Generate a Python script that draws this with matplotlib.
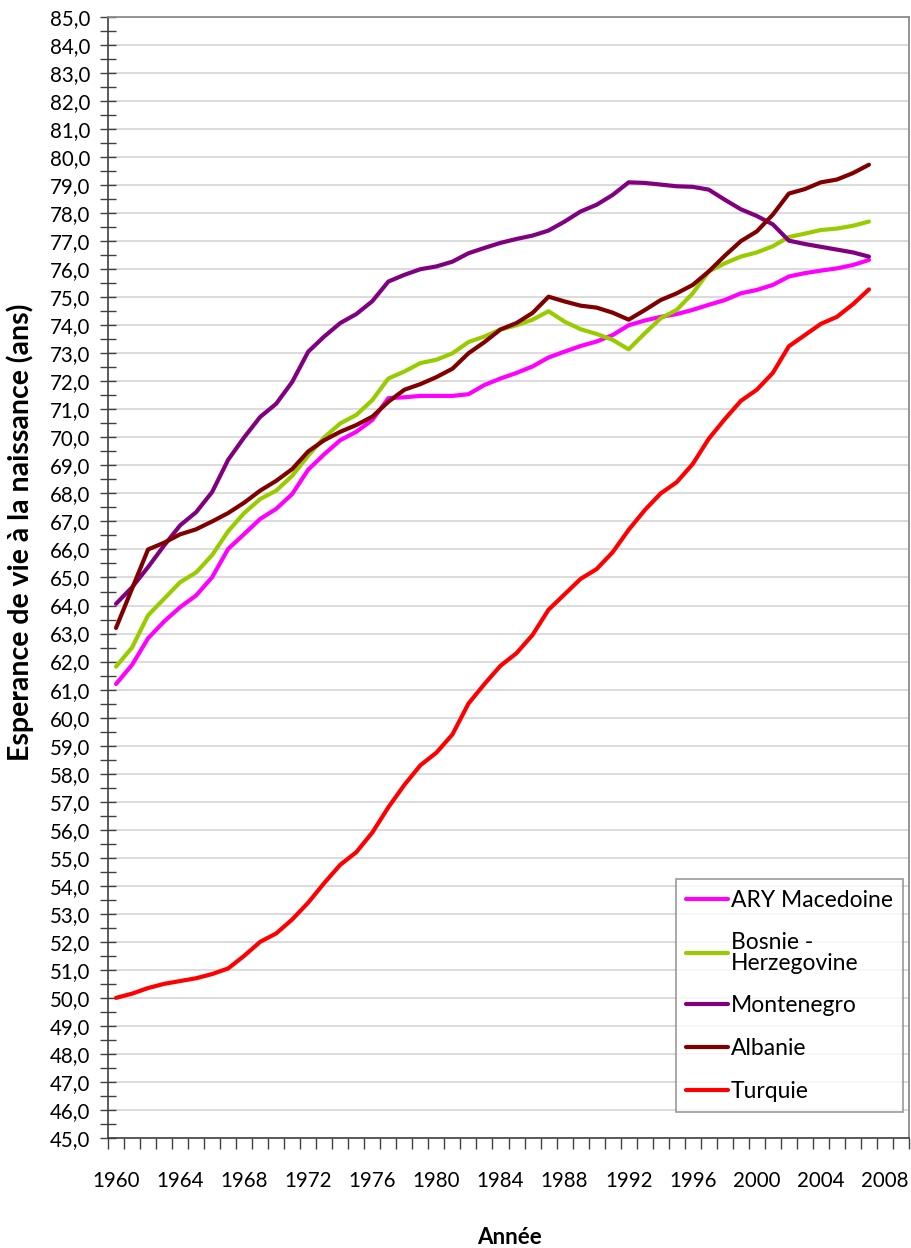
import matplotlib
matplotlib.use("Agg")
import matplotlib.pyplot as plt
import numpy as np

plt.rcParams['font.family'] = ['Lato', 'DejaVu Sans']

years = list(range(1960, 2008))

macedoine = [61.2, 61.88, 62.83, 63.43, 63.94, 64.36, 65.01, 66.02, 66.55, 67.09,
             67.45, 67.98, 68.85, 69.4, 69.9, 70.2, 70.62, 71.4, 71.43, 71.48,
             71.48, 71.48, 71.54, 71.87, 72.1, 72.3, 72.53, 72.85, 73.06, 73.26,
             73.42, 73.65, 74.0, 74.17, 74.3, 74.4, 74.55, 74.73, 74.9, 75.14,
             75.26, 75.44, 75.74, 75.86, 75.95, 76.03, 76.15, 76.33]

bosnie = [61.82, 62.5, 63.65, 64.24, 64.83, 65.18, 65.8, 66.65, 67.3, 67.8,
          68.1, 68.63, 69.35, 70.0, 70.5, 70.8, 71.33, 72.1, 72.35, 72.65,
          72.77, 73.0, 73.4, 73.6, 73.85, 74.0, 74.2, 74.5, 74.13, 73.86,
          73.69, 73.48, 73.14, 73.71, 74.25, 74.55, 75.14, 75.92, 76.21, 76.45,
          76.6, 76.82, 77.15, 77.27, 77.4, 77.45, 77.55, 77.7]

montenegro = [64.06, 64.65, 65.37, 66.14, 66.86, 67.33, 68.05, 69.2, 70.0, 70.73,
              71.2, 71.98, 73.06, 73.6, 74.08, 74.4, 74.86, 75.56, 75.8, 76.0,
              76.1, 76.27, 76.57, 76.76, 76.94, 77.08, 77.2, 77.38, 77.7, 78.06,
              78.3, 78.65, 79.1, 79.08, 79.02, 78.96, 78.94, 78.84, 78.48, 78.14,
              77.9, 77.6, 77.02, 76.9, 76.8, 76.7, 76.6, 76.45]

albanie = [63.2, 64.6, 66.0, 66.24, 66.54, 66.72, 67.0, 67.3, 67.67, 68.1,
           68.45, 68.87, 69.5, 69.9, 70.2, 70.44, 70.74, 71.27, 71.7, 71.9,
           72.15, 72.45, 73.0, 73.4, 73.85, 74.08, 74.44, 75.02, 74.85, 74.7,
           74.63, 74.45, 74.2, 74.54, 74.9, 75.14, 75.44, 75.92, 76.48, 77.0,
           77.35, 77.95, 78.7, 78.86, 79.1, 79.2, 79.43, 79.73]

turquie = [50.0, 50.15, 50.35, 50.5, 50.6, 50.7, 50.85, 51.05, 51.5, 52.0,
           52.3, 52.8, 53.4, 54.1, 54.75, 55.2, 55.9, 56.8, 57.6, 58.3,
           58.75, 59.4, 60.5, 61.2, 61.85, 62.3, 62.95, 63.85, 64.4, 64.95,
           65.3, 65.9, 66.7, 67.4, 68.0, 68.4, 69.05, 69.95, 70.65, 71.3,
           71.7, 72.3, 73.25, 73.65, 74.05, 74.3, 74.75, 75.28]

series = [
    ("ARY Macedoine", macedoine, "#FF00FF"),
    ("Bosnie -\nHerzegovine", bosnie, "#99CC00"),
    ("Montenegro", montenegro, "#800080"),
    ("Albanie", albanie, "#800000"),
    ("Turquie", turquie, "#FF0000"),
]

fig = plt.figure(figsize=(9.12, 12.48), dpi=100)
ax = fig.add_axes([108/912, 1-1138/1248, 801/912, 1121/1248])

for name, vals, col in series:
    ax.plot(years, vals, color=col, lw=3, label=name, solid_capstyle='round')

ax.set_xlim(1959.5, 2009.5)
ax.set_ylim(45, 85)

ax.set_yticks(np.arange(45, 85.5, 1))
ax.set_yticks(np.arange(45.5, 85, 1), minor=True)
ax.set_yticklabels([("%.1f" % v).replace('.', ',') for v in np.arange(45, 85.5, 1)])
ax.tick_params(axis='y', which='both', direction='inout', length=12, width=1,
               color='#404040', labelsize=14.8, pad=7)

ax.set_xticks(range(1960, 2009, 4))
ax.set_xticks(np.arange(1959.5, 2010, 1), minor=True)
ax.tick_params(axis='x', which='major', length=0, labelsize=14.8, pad=24)
ax.tick_params(axis='x', which='minor', direction='out', length=8, width=1, color='#404040')

ax.yaxis.grid(True, which='major', color='#d9d9d9', lw=1.3)
ax.set_axisbelow(True)

for s in ['top', 'right']:
    ax.spines[s].set_color('#8c8c8c')
    ax.spines[s].set_linewidth(1.3)
for s in ['left', 'bottom']:
    ax.spines[s].set_color('#404040')
    ax.spines[s].set_linewidth(1.2)

leg = ax.legend(loc='lower right', bbox_to_anchor=(0.993, 0.023), fontsize=16.5,
                frameon=True, fancybox=False, edgecolor='#808080',
                handlelength=1.8, handletextpad=0.15, labelspacing=0.95,
                borderpad=0.45, borderaxespad=0)
leg.get_frame().set_linewidth(1.2)
leg.get_texts()[1].set_linespacing(0.95)

fig.text(20/912, 1-532/1248, "Esperance de vie à la naissance (ans)", rotation=90,
         ha='center', va='center', fontsize=20.5, fontweight='bold')
fig.text(510/912, 1-1238/1248, "Année", ha='center', va='center',
         fontsize=16, fontweight='bold')

fig.savefig("out.png", dpi=100)
